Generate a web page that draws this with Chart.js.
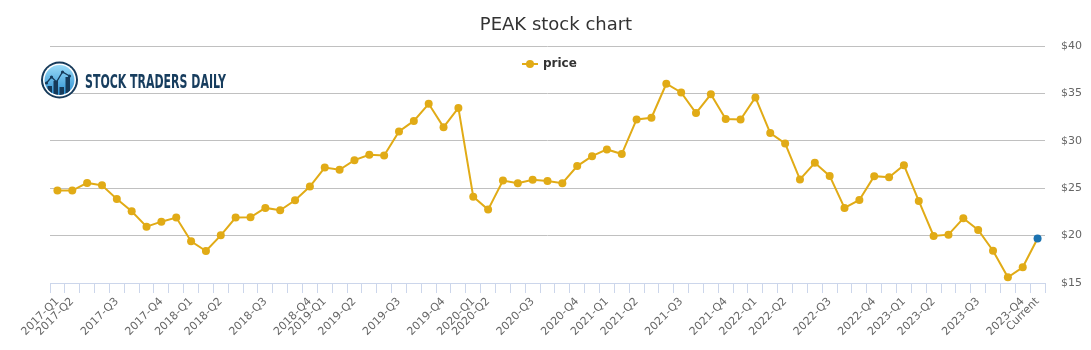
<!DOCTYPE html>
<html>
<head>
<meta charset="utf-8">
<title>PEAK stock chart</title>
<script src="https://cdn.jsdelivr.net/npm/chart.js@4.4.1/dist/chart.umd.min.js"></script>
<style>
  html, body { margin: 0; padding: 0; background: #fff; }
  #wrap { width: 1091px; height: 350px; }
</style>
</head>
<body>
<div id="wrap"><canvas id="stockChart" width="1091" height="350"></canvas></div>
<script>
// x categories, only quarter starts carry a label
const categories = [
  "2017-Q1", "2017-Q2", "", "", "2017-Q3", "", "", "2017-Q4", "", "2018-Q1",
  "", "2018-Q2", "", "", "2018-Q3", "", "", "2018-Q4", "2019-Q1", "",
  "2019-Q2", "", "", "2019-Q3", "", "", "2019-Q4", "", "2020-Q1", "2020-Q2",
  "", "", "2020-Q3", "", "", "2020-Q4", "", "2021-Q1", "", "2021-Q2",
  "", "", "2021-Q3", "", "", "2021-Q4", "", "2022-Q1", "", "2022-Q2",
  "", "", "2022-Q3", "", "", "2022-Q4", "", "2023-Q1", "", "2023-Q2",
  "", "", "2023-Q3", "", "", "2023-Q4", "Current"
];

// closing price per period
const prices = [
  24.75, 24.75, 25.56, 25.30, 23.87, 22.57, 20.94, 21.47, 21.90, 19.40,
  18.37, 20.03, 21.90, 21.93, 22.92, 22.67, 23.73, 25.17, 27.18, 26.94,
  27.96, 28.52, 28.45, 30.98, 32.10, 33.90, 31.44, 33.47, 24.11, 22.74,
  25.80, 25.53, 25.88, 25.77, 25.53, 27.33, 28.38, 29.09, 28.60, 32.25,
  32.43, 36.02, 35.10, 32.92, 34.90, 32.29, 32.25, 34.58, 30.81, 29.72,
  25.93, 27.68, 26.30, 22.92, 23.76, 26.27, 26.16, 27.43, 23.66, 19.96,
  20.10, 21.83, 20.59, 18.41, 15.60, 16.66, 19.69
];

// y axis range and step
const yTicks = [15, 20, 25, 30, 35, 40];

const lineColor = "#e1ab16";
const currentColor = "#1a72b0";
const font = "'DejaVu Sans', sans-serif";

const pointColors = prices.map((v, i) => i === prices.length - 1 ? currentColor : lineColor);

// title, legend + logo drawn on top of the plot
const overlay = {
  id: "overlay",
  afterDraw(chart) {
    const ctx = chart.ctx;
    ctx.save();

    // title
    ctx.fillStyle = "#333";
    ctx.font = "18px " + font;
    ctx.textAlign = "center";
    ctx.textBaseline = "alphabetic";
    ctx.fillText("PEAK stock chart", 556, 30);

    // legend
    ctx.strokeStyle = lineColor;
    ctx.lineWidth = 2;
    ctx.beginPath();
    ctx.moveTo(522, 64);
    ctx.lineTo(538, 64);
    ctx.stroke();
    ctx.fillStyle = lineColor;
    ctx.beginPath();
    ctx.arc(530, 64, 4, 0, Math.PI * 2);
    ctx.fill();
    ctx.fillStyle = "#333";
    ctx.font = "bold 12px " + font;
    ctx.textBaseline = "middle";
    ctx.textAlign = "left";
    ctx.fillText("price", 543, 64);

    // logo
    const cx = 59.5, cy = 80;
    ctx.fillStyle = "#163a5a";
    ctx.beginPath();
    ctx.arc(cx, cy, 18.5, 0, Math.PI * 2);
    ctx.fill();
    ctx.fillStyle = "#fff";
    ctx.beginPath();
    ctx.arc(cx, cy, 16.5, 0, Math.PI * 2);
    ctx.fill();
    const g = ctx.createLinearGradient(0, cy - 15, 0, cy + 15);
    g.addColorStop(0, "#9adbf8");
    g.addColorStop(1, "#2b8fd2");
    ctx.fillStyle = g;
    ctx.beginPath();
    ctx.arc(cx, cy, 15, 0, Math.PI * 2);
    ctx.fill();
    ctx.save();
    ctx.clip();
    ctx.fillStyle = "#163a5a";
    [[-12, 6], [-6, 1], [0, 7], [6, -3]].forEach(b => {
      ctx.fillRect(cx + b[0], cy + b[1], 4.5, 20);
    });
    ctx.strokeStyle = "#163a5a";
    ctx.lineWidth = 1.3;
    ctx.beginPath();
    const pts = [[-13, 3], [-8, -3], [-3, 2], [3, -8], [10, -4]];
    pts.forEach((p, i) => i ? ctx.lineTo(cx + p[0], cy + p[1]) : ctx.moveTo(cx + p[0], cy + p[1]));
    ctx.stroke();
    pts.forEach(p => {
      ctx.beginPath();
      ctx.arc(cx + p[0], cy + p[1], 1.6, 0, Math.PI * 2);
      ctx.fill();
    });
    ctx.restore();

    ctx.fillStyle = "#173d5e";
    ctx.font = "bold 20px 'Liberation Sans Narrow', 'DejaVu Sans Condensed', sans-serif";
    ctx.textBaseline = "alphabetic";
    ctx.fillText("STOCK TRADERS DAILY", 85, 87.5, 141);

    ctx.restore();
  }
};

const config = {
  type: "line",
  data: {
    labels: categories,
    datasets: [
      {
        label: "price",
        data: prices,
        borderColor: lineColor,
        backgroundColor: pointColors,
        pointBackgroundColor: pointColors,
        pointBorderColor: pointColors,
        borderWidth: 2,
        pointRadius: 4,
        pointBorderWidth: 0,
        tension: 0,
        fill: false,
      },
    ],
  },
  options: {
    responsive: false,
    animation: false,
    layout: {
      padding: { left: 50, right: 0, top: 46, bottom: 0 },
    },
    plugins: {
      legend: { display: false },
      tooltip: { enabled: false },
      title: { display: false },
    },
    scales: {
      x: {
        type: "category",
        offset: true,
        grid: {
          offset: true,
          drawOnChartArea: false,
          drawTicks: true,
          tickLength: 10,
          color: "#ccd6eb",
        },
        border: { color: "#ccd6eb" },
        ticks: {
          autoSkip: false,
          maxRotation: 45,
          minRotation: 45,
          color: "#666",
          font: { family: font, size: 11 },
          padding: 2,
        },
        afterFit(scale) {
          scale.height = 67;
        },
      },
      y: {
        position: "right",
        min: yTicks[0],
        max: yTicks[yTicks.length - 1],
        grid: {
          color: (c) => (c.tick && c.tick.value === yTicks[0] ? "rgba(0,0,0,0)" : "#c0c0c0"),
          drawTicks: false,
        },
        border: { display: false },
        ticks: {
          stepSize: 5,
          color: "#666",
          font: { family: font, size: 11 },
          padding: 16,
          callback: (v) => "$" + v,
        },
        afterFit(scale) {
          scale.width = 46;
        },
      },
    },
  },
  plugins: [overlay],
};

const stockChart = new Chart(document.getElementById("stockChart"), config);
</script>
</body>
</html>
